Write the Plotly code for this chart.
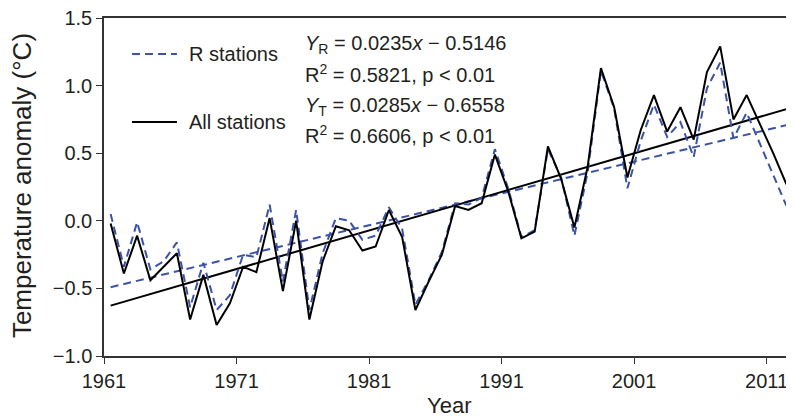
import plotly.graph_objects as go

# ---------------- data ----------------
years = list(range(1961, 2013))
all_stations = [
    -0.02, -0.39, -0.11, -0.44, -0.34, -0.24, -0.73, -0.40, -0.77, -0.61,
    -0.34, -0.38, 0.02, -0.52, 0.00, -0.73, -0.30, -0.04, -0.07, -0.22,
    -0.19, 0.08, -0.12, -0.66, -0.45, -0.25, 0.11, 0.08, 0.13, 0.49,
    0.22, -0.13, -0.08, 0.55, 0.31, -0.05, 0.40, 1.13, 0.84, 0.32,
    0.67, 0.93, 0.66, 0.84, 0.60, 1.10, 1.29, 0.75, 0.93, 0.72,
    0.50, 0.27,
]
r_stations = [
    0.05, -0.34, -0.01, -0.36, -0.30, -0.16, -0.64, -0.31, -0.66, -0.55,
    -0.25, -0.27, 0.12, -0.45, 0.08, -0.66, -0.24, 0.02, 0.00, -0.14,
    -0.11, 0.10, -0.06, -0.62, -0.44, -0.23, 0.13, 0.12, 0.17, 0.53,
    0.24, -0.12, -0.07, 0.53, 0.32, -0.11, 0.36, 1.11, 0.83, 0.24,
    0.59, 0.86, 0.62, 0.73, 0.47, 0.98, 1.17, 0.61, 0.80, 0.57,
    0.35, 0.11,
]
# regression coefficients as printed on the chart (x = year index, 1..n)
slope_r, intercept_r = 0.0235, -0.5146
slope_t, intercept_t = 0.0285, -0.6558

tick_years = [1961, 1971, 1981, 1991, 2001, 2011]
tick_labels = ["1961", "1971", "1981", "1991", "2001", "2011"]
y_ticks = [-1.0, -0.5, 0.0, 0.5, 1.0, 1.5]

series_names = ["R stations", "All stations"]
eq_r = ["<i>Y</i><sub>R</sub> = 0.0235<i>x</i> \u2212 0.5146",
        "R<sup>2</sup> = 0.5821, p < 0.01"]
eq_t = ["<i>Y</i><sub>T</sub> = 0.0285<i>x</i> \u2212 0.6558",
        "R<sup>2</sup> = 0.6606, p < 0.01"]
x_title = "Year"
y_title = "Temperature anomaly (\u00b0C)"

# ---------------- derived ----------------
x_mid = [y + 0.5 for y in years]          # values plotted at mid-year
n = len(years)
trend_x = [x_mid[0], x_mid[-1]]
trend_r = [slope_r * 1 + intercept_r, slope_r * n + intercept_r]
trend_t = [slope_t * 1 + intercept_t, slope_t * n + intercept_t]

BLUE = "#3A53A6"
BLACK = "#000000"
TXT = "#231f20"
FONT = "Liberation Sans, Arial, sans-serif"
DASH = "8px,5px"

fig = go.Figure()
fig.add_trace(go.Scatter(x=trend_x, y=trend_r, mode="lines",
                         line=dict(color=BLUE, width=2, dash=DASH),
                         showlegend=False, hoverinfo="skip"))
fig.add_trace(go.Scatter(x=trend_x, y=trend_t, mode="lines",
                         line=dict(color=BLACK, width=2),
                         showlegend=False, hoverinfo="skip"))
fig.add_trace(go.Scatter(x=x_mid, y=r_stations, mode="lines", name=series_names[0],
                         line=dict(color=BLUE, width=2, dash=DASH),
                         showlegend=False))
fig.add_trace(go.Scatter(x=x_mid, y=all_stations, mode="lines", name=series_names[1],
                         line=dict(color=BLACK, width=2),
                         showlegend=False))

# ---- manual legend (paper coordinates) ----
leg_rows = [(0.8935, BLUE, DASH, series_names[0], eq_r, 0.923, 0.837),
            (0.692, BLACK, "solid", series_names[1], eq_t, 0.737, 0.654)]
for yy, col, dsh, name, eq, y1, y2 in leg_rows:
    fig.add_shape(type="line", xref="paper", yref="paper",
                  x0=0.0407, x1=0.106, y0=yy, y1=yy,
                  line=dict(color=col, width=2, dash=dsh))
    fig.add_annotation(xref="paper", yref="paper", x=0.1206, y=yy,
                       text=name, showarrow=False, xanchor="left", yanchor="middle",
                       font=dict(family=FONT, size=20, color=TXT))
    fig.add_annotation(xref="paper", yref="paper", x=0.289, y=y1,
                       text=eq[0], showarrow=False, xanchor="left", yanchor="middle",
                       font=dict(family=FONT, size=20, color=TXT))
    fig.add_annotation(xref="paper", yref="paper", x=0.289, y=y2,
                       text=eq[1], showarrow=False, xanchor="left", yanchor="middle",
                       font=dict(family=FONT, size=20, color=TXT))

# axis titles placed as annotations
fig.add_annotation(xref="paper", yref="paper", x=0.501, y=-0.145, text=x_title,
                   showarrow=False, xanchor="center", yanchor="middle",
                   font=dict(family=FONT, size=22, color=TXT))
fig.add_annotation(xref="paper", yref="paper", x=-0.119, y=0.503, text=y_title,
                   showarrow=False, xanchor="center", yanchor="middle", textangle=-90,
                   font=dict(family=FONT, size=26, color=TXT))

axis_common = dict(showline=True, linecolor="#333333", linewidth=1.5, mirror=True,
                   ticks="outside", ticklen=6, tickwidth=1.2, tickcolor="#333333",
                   showgrid=False, zeroline=False, automargin=False,
                   ticklabeloverflow="allow",
                   tickfont=dict(family=FONT, size=20, color=TXT))

fig.update_xaxes(range=[1961, 2012.92], tickvals=tick_years, ticktext=tick_labels,
                 **axis_common)
fig.update_yaxes(range=[-1.0, 1.5], tickvals=y_ticks, tickformat=".1f",
                 **axis_common)

# the page adds an 8px body margin, so the figure is 8px smaller than the window
fig.update_layout(width=786, height=409,
                  margin=dict(l=96, r=2, t=10, b=61),
                  plot_bgcolor="white", paper_bgcolor="white",
                  showlegend=False)

fig.write_html("out.html")
